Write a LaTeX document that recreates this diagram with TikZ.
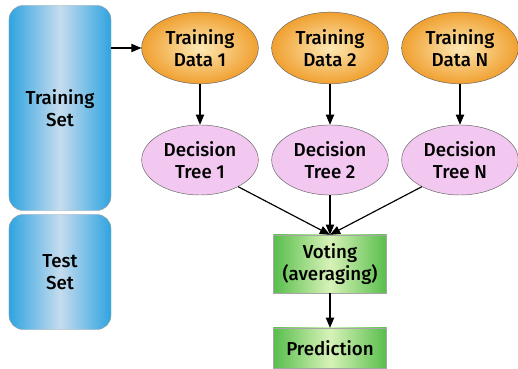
\documentclass[tikz,border=0pt]{standalone}
\usepackage{fontspec}
\setmainfont{Fira Sans Medium}
\usetikzlibrary{arrows}
\usetikzlibrary{shapes.geometric, positioning}
\definecolor{setedge}{HTML}{2FA4E0}
\definecolor{setmid}{HTML}{C6DCEE}
\definecolor{dataedge}{HTML}{F0A030}
\definecolor{datamid}{HTML}{FDE8B4}
\definecolor{treefill}{HTML}{F2C8F0}
\definecolor{voteedge}{HTML}{58BE4C}
\definecolor{votemid}{HTML}{D8F2B8}

\begin{document}
\begin{tikzpicture}[x=0.03cm, y=-0.03cm,
    font=\fontsize{16}{19}\selectfont,
    setbox/.style={rectangle, rounded corners=12pt, draw=gray!70, thin, align=center,
      inner sep=0pt, left color=setedge, right color=setedge, middle color=setmid},
    databall/.style={ellipse, draw=black!60, thin, align=center, inner sep=0pt,
      minimum width=3.5cm, minimum height=2.15cm,
      inner color=datamid, outer color=dataedge},
    treeball/.style={ellipse, draw=black!60, thin, align=center, inner sep=0pt,
      minimum width=3.5cm, minimum height=2.1cm, fill=treefill},
    votebox/.style={rectangle, draw=gray!70, thin, align=center, inner sep=0pt,
      minimum width=3.4cm, left color=voteedge, right color=voteedge,
      middle color=votemid},
    link/.style={-triangle 45, line width=1pt}]

  \useasboundingbox (0,0) rectangle (518,369);

  % sets on the left
  \node[setbox, minimum width=3.06cm, minimum height=6.15cm] (train) at (60,108) {Training\\Set};
  \node[setbox, minimum width=3.06cm, minimum height=3.45cm] (test) at (60,272) {Test\\Set};

  % bootstrap samples
  \node[databall] (d1) at (200,48) {Training\\Data 1};
  \node[databall] (d2) at (330,48) {Training\\Data 2};
  \node[databall] (dn) at (460,48) {Training\\Data N};

  % trees
  \node[treeball] (t1) at (200,160) {Decision\\Tree 1};
  \node[treeball] (t2) at (330,160) {Decision\\Tree 2};
  \node[treeball] (tn) at (460,160) {Decision\\Tree N};

  % aggregation
  \node[votebox, minimum height=1.74cm] (vote) at (330,264) {Voting\\(averaging)};
  \node[votebox, minimum height=1.2cm] (pred) at (330,348) {Prediction};

  \draw[link] (train.east |- d1.west) -- (d1.west);
  \draw[link] (d1) -- (t1);
  \draw[link] (d2) -- (t2);
  \draw[link] (dn) -- (tn);
  \draw[link] (t1.-35) -- (vote.north);
  \draw[link] (t2) -- (vote.north);
  \draw[link] (tn.-145) -- (vote.north);
  \draw[link] (vote) -- (pred);

\end{tikzpicture}
\end{document}
